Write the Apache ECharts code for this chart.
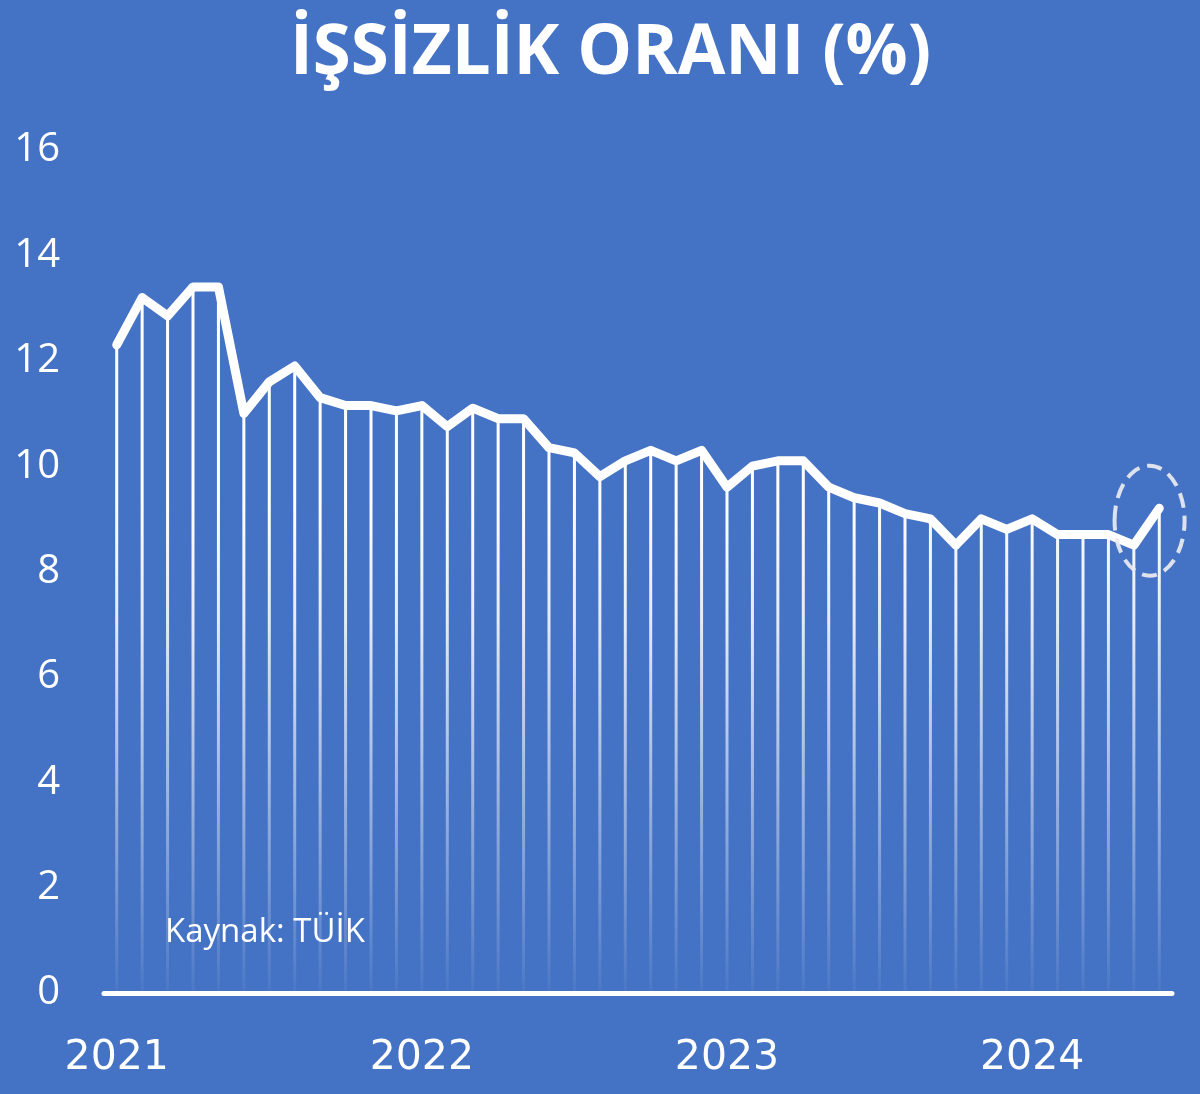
<!DOCTYPE html>
<html>
<head>
<meta charset="utf-8">
<script src="https://cdn.jsdelivr.net/npm/echarts@6/dist/echarts.min.js"></script>
<style>
html,body{margin:0;padding:0;background:#4472C4;}
#c{width:1200px;height:1094px;}
</style>
</head>
<body>
<div id="c"></div>
<script>
// Monthly unemployment rate, Jan 2021 – Jun 2024
const months = [
  '2021-01','2021-02','2021-03','2021-04','2021-05','2021-06','2021-07','2021-08','2021-09','2021-10','2021-11','2021-12',
  '2022-01','2022-02','2022-03','2022-04','2022-05','2022-06','2022-07','2022-08','2022-09','2022-10','2022-11','2022-12',
  '2023-01','2023-02','2023-03','2023-04','2023-05','2023-06','2023-07','2023-08','2023-09','2023-10','2023-11','2023-12',
  '2024-01','2024-02','2024-03','2024-04','2024-05','2024-06'
];
const rates = [
  12.3, 13.2, 12.85, 13.4, 13.4, 11.0, 11.6, 11.9, 11.3, 11.15, 11.15, 11.05,
  11.15, 10.75, 11.1, 10.9, 10.9, 10.35, 10.25, 9.8, 10.1, 10.3, 10.1, 10.3,
  9.6, 10.0, 10.1, 10.1, 9.6, 9.4, 9.3, 9.1, 9.0, 8.5, 9.0, 8.8, 9.0, 8.7,
  8.7, 8.7, 8.5, 9.2
];
const yTicks = [0, 2, 4, 6, 8, 10, 12, 14, 16];
const titleText = 'İŞSİZLİK ORANI (%)';
const sourceText = 'Kaynak: TÜİK';
const highlightIdx = [40, 41];

const chart = echarts.init(document.getElementById('c'), null, {renderer: 'canvas'});
const option = {
  backgroundColor: '#4472C4',
  animation: false,
  title: [
    {
      text: titleText, left: 285, top: 15,
      textStyle: {color: '#ffffff', fontFamily: 'Open Sans', fontWeight: 'bold', fontSize: 69}
    },
    {
      text: sourceText, left: 160, top: 911,
      textStyle: {color: '#ffffff', fontFamily: 'Open Sans', fontWeight: 'normal', fontSize: 33}
    }
  ],
  grid: {left: 104, right: 28, top: 150, bottom: 101, containLabel: false},
  xAxis: {
    type: 'category',
    data: months,
    boundaryGap: true,
    axisLine: {show: true, lineStyle: {color: '#ffffff', width: 5}},
    axisTick: {show: false},
    splitLine: {show: false},
    axisLabel: {
      color: '#ffffff', fontFamily: 'DejaVu Sans', fontSize: 41, margin: 45,
      interval: function (i, v) { return v.slice(5) === '01'; },
      formatter: function (v) { return v.slice(0, 4); }
    }
  },
  yAxis: {
    type: 'value', min: yTicks[0], max: yTicks[yTicks.length - 1], interval: 2,
    axisLine: {show: false}, axisTick: {show: false}, splitLine: {show: false},
    axisLabel: {color: '#ffffff', fontFamily: 'Open Sans', fontSize: 40, margin: 44, align: 'right'}
  },
  series: [
    {
      type: 'bar', data: rates, barWidth: 3, z: 1,
      itemStyle: {
        color: {
          type: 'linear', x: 0, y: 500, x2: 0, y2: 993, global: true,
          colorStops: [
            {offset: 0, color: 'rgba(255,255,255,1)'},
            {offset: 0.25, color: 'rgba(255,255,255,0.85)'},
            {offset: 1, color: 'rgba(255,255,255,0.04)'}
          ]
        }
      }
    },
    {
      type: 'line', data: rates, z: 3, showSymbol: false, symbol: 'none',
      lineStyle: {color: '#ffffff', width: 9, cap: 'round', join: 'round'}
    }
  ]
};
chart.setOption(option);

// dashed ellipse annotation around the last two points
const p1 = chart.convertToPixel({seriesIndex: 1}, [highlightIdx[0], rates[highlightIdx[0]]]);
const p2 = chart.convertToPixel({seriesIndex: 1}, [highlightIdx[1], rates[highlightIdx[1]]]);
chart.setOption({
  graphic: [{
    type: 'ellipse', z: 10,
    shape: {cx: (p1[0] + p2[0]) / 2 + 3, cy: (p1[1] + p2[1]) / 2 - 6, rx: 35, ry: 55},
    style: {fill: 'none', stroke: 'rgba(235,235,240,0.92)', lineWidth: 4, lineDash: [15, 8]}
  }]
});
</script>
</body>
</html>
